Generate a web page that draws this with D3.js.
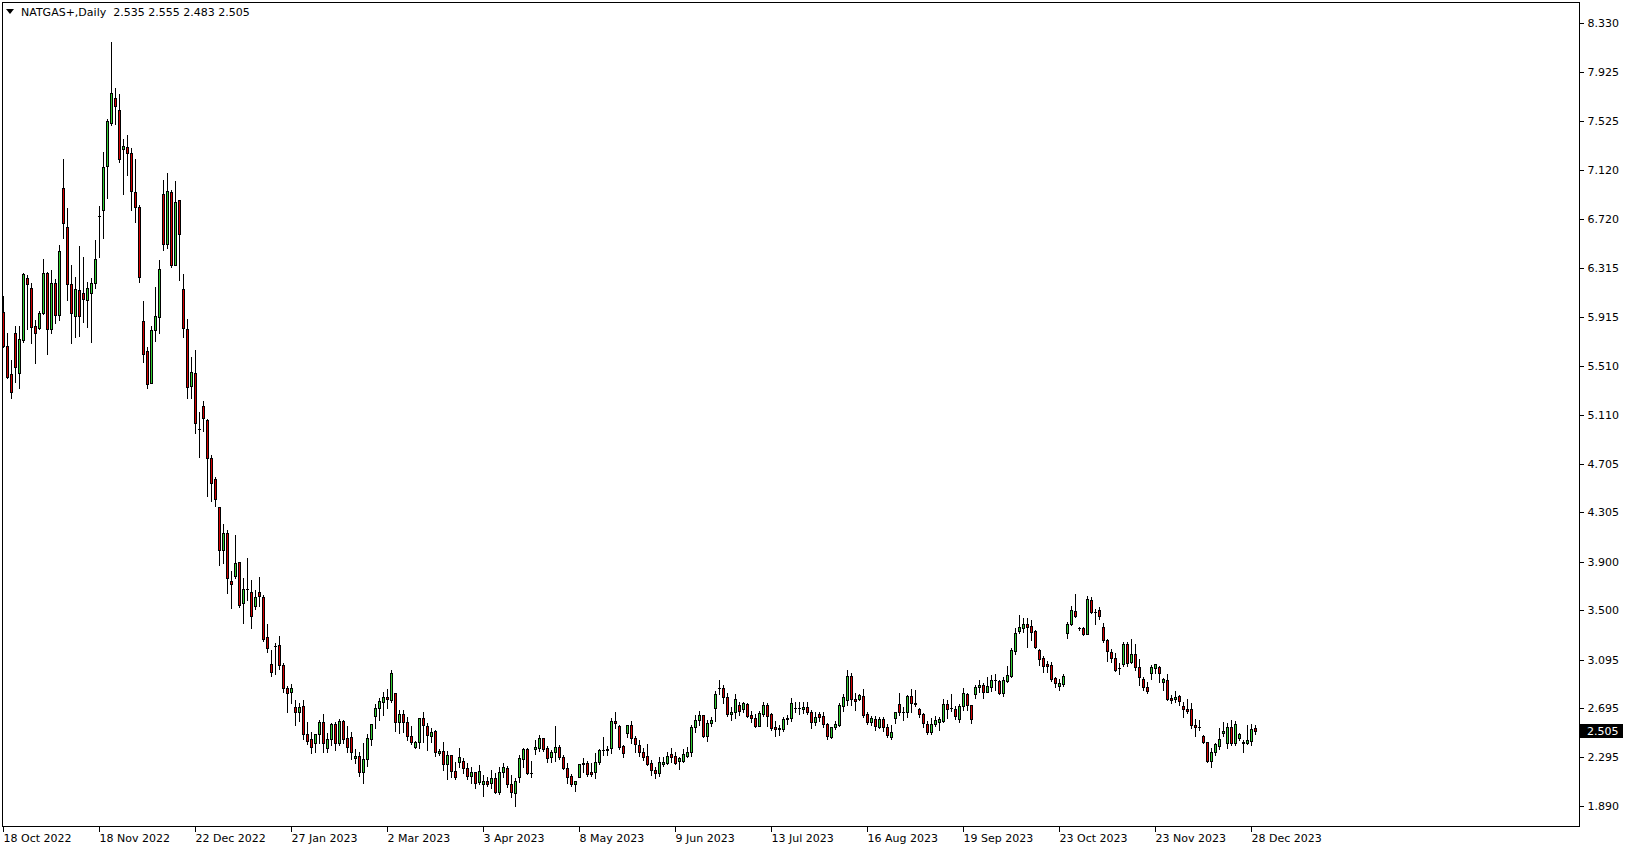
<!DOCTYPE html>
<html><head><meta charset="utf-8">
<script src="https://cdn.jsdelivr.net/npm/d3@7"></script>
<style>
html,body{margin:0;padding:0;background:#fff;overflow:hidden;}
svg{display:block;}
text{font-family:"DejaVu Sans",sans-serif;font-size:11px;}
</style></head><body>
<svg id="c" width="1629" height="850"></svg>
<script>
const symbol = "NATGAS+";
const timeframe = "Daily";
const lastOHLC = [2.535, 2.555, 2.483, 2.505];
const lastPrice = 2.505;

const opens = [5.956,5.674,5.441,5.778,5.449,5.723,6.230,6.148,5.838,5.819,5.943,6.271,5.811,6.189,5.926,6.970,6.650,6.181,5.921,6.134,6.107,6.052,6.113,6.189,6.743,6.792,7.154,7.505,7.710,7.614,7.291,7.307,7.258,6.937,6.814,5.880,5.633,5.367,5.806,5.915,6.921,6.510,6.937,6.340,6.874,6.143,5.814,5.347,5.449,4.988,5.180,5.065,4.750,4.577,4.347,3.996,4.133,3.744,3.785,3.895,3.558,3.673,3.654,3.539,3.654,3.607,3.278,3.056,3.207,3.215,3.051,2.859,2.832,2.703,2.662,2.714,2.481,2.443,2.407,2.481,2.585,2.371,2.443,2.563,2.407,2.591,2.448,2.462,2.284,2.303,2.169,2.278,2.443,2.634,2.700,2.750,2.791,2.763,2.818,2.585,2.645,2.580,2.470,2.374,2.415,2.612,2.552,2.470,2.508,2.325,2.344,2.234,2.311,2.182,2.256,2.262,2.201,2.141,2.168,2.092,2.070,2.097,2.078,2.119,2.004,2.168,2.201,2.070,1.996,2.133,2.281,2.358,2.166,2.358,2.366,2.448,2.366,2.297,2.333,2.380,2.297,2.207,2.141,2.073,2.133,2.234,2.242,2.168,2.174,2.251,2.352,2.352,2.366,2.593,2.549,2.385,2.489,2.558,2.448,2.393,2.338,2.303,2.242,2.188,2.165,2.237,2.248,2.319,2.306,2.262,2.264,2.305,2.333,2.538,2.599,2.640,2.467,2.577,2.695,2.865,2.859,2.791,2.645,2.662,2.722,2.686,2.730,2.640,2.612,2.552,2.648,2.722,2.645,2.538,2.530,2.522,2.607,2.612,2.700,2.695,2.689,2.708,2.667,2.585,2.645,2.632,2.563,2.462,2.538,2.558,2.714,2.763,2.960,2.771,2.769,2.796,2.648,2.585,2.607,2.544,2.607,2.544,2.462,2.612,2.728,2.667,2.662,2.796,2.741,2.689,2.645,2.563,2.503,2.563,2.582,2.593,2.728,2.695,2.689,2.607,2.716,2.810,2.722,2.813,2.868,2.887,2.832,2.873,2.928,2.919,2.823,2.919,2.960,3.169,3.333,3.352,3.388,3.371,3.330,3.174,3.106,3.056,3.051,2.941,2.881,2.895,3.311,3.388,3.495,3.352,3.352,3.306,3.585,3.489,3.503,3.361,3.256,3.161,3.111,3.024,3.056,3.221,3.078,3.139,3.032,2.936,2.867,2.982,3.024,3.032,2.914,2.928,2.777,2.771,2.796,2.714,2.689,2.686,2.558,2.539,2.470,2.415,2.262,2.333,2.388,2.489,2.412,2.539,2.407,2.448,2.421,2.407,2.429,2.535];
const highs = [6.085,5.778,5.559,5.838,5.838,6.277,6.258,6.189,5.888,5.962,6.387,6.282,6.299,6.222,6.504,7.209,6.806,6.340,6.244,6.496,6.403,6.203,6.230,6.546,6.825,7.266,7.537,8.171,7.792,7.743,7.376,7.409,7.299,7.209,6.833,6.044,5.668,5.838,6.162,6.381,7.039,7.094,6.957,7.031,6.874,6.263,5.893,5.586,5.641,5.134,5.221,5.071,4.775,4.599,4.347,4.207,4.161,3.826,4.120,3.895,3.763,3.928,3.750,3.668,3.777,3.626,3.388,3.174,3.229,3.289,3.065,2.878,2.895,2.763,2.736,2.763,2.585,2.497,2.481,2.599,2.648,2.489,2.571,2.585,2.607,2.599,2.549,2.497,2.360,2.338,2.412,2.481,2.563,2.728,2.777,2.826,2.854,3.010,2.818,2.681,2.681,2.626,2.549,2.429,2.618,2.667,2.571,2.530,2.517,2.357,2.421,2.344,2.311,2.256,2.366,2.284,2.248,2.210,2.168,2.229,2.147,2.133,2.188,2.166,2.215,2.242,2.221,2.147,2.119,2.311,2.366,2.366,2.262,2.434,2.475,2.448,2.385,2.352,2.549,2.393,2.311,2.242,2.155,2.100,2.234,2.284,2.262,2.248,2.325,2.360,2.456,2.388,2.612,2.667,2.558,2.393,2.558,2.591,2.470,2.434,2.366,2.401,2.270,2.215,2.297,2.297,2.333,2.366,2.333,2.297,2.358,2.374,2.557,2.640,2.673,2.640,2.599,2.621,2.837,2.928,2.887,2.818,2.708,2.810,2.750,2.750,2.741,2.673,2.645,2.675,2.744,2.741,2.653,2.593,2.558,2.626,2.640,2.777,2.750,2.750,2.750,2.750,2.681,2.662,2.667,2.667,2.571,2.544,2.593,2.741,2.813,3.010,2.988,2.818,2.813,2.851,2.667,2.632,2.632,2.626,2.626,2.566,2.558,2.667,2.818,2.708,2.804,2.851,2.845,2.700,2.659,2.590,2.612,2.632,2.626,2.769,2.763,2.810,2.714,2.728,2.859,2.818,2.722,2.887,2.928,2.900,2.955,2.969,2.977,2.928,2.955,3.043,3.188,3.352,3.462,3.434,3.434,3.421,3.339,3.180,3.125,3.084,3.078,2.950,2.936,2.974,3.407,3.536,3.635,3.366,3.366,3.618,3.613,3.511,3.530,3.394,3.262,3.182,3.147,3.070,3.243,3.243,3.262,3.221,3.100,2.950,2.909,3.051,3.059,3.043,2.941,2.977,2.804,2.840,2.804,2.750,2.769,2.741,2.607,2.599,2.475,2.415,2.366,2.412,2.530,2.580,2.577,2.599,2.593,2.489,2.434,2.558,2.566,2.555];
const lows = [5.663,5.414,5.244,5.381,5.331,5.710,5.814,5.696,5.532,5.811,5.937,5.608,5.778,5.860,5.888,6.559,6.052,5.701,5.745,5.756,5.874,5.828,5.710,6.148,6.408,6.559,6.888,7.491,7.496,7.189,6.921,7.080,6.792,6.696,6.203,5.545,5.331,5.367,5.718,5.784,6.463,6.482,6.326,6.340,6.217,5.751,5.244,5.249,4.961,4.764,4.977,4.443,4.402,4.361,3.873,3.887,3.640,3.517,3.763,3.531,3.399,3.585,3.358,3.509,3.536,3.251,3.160,2.963,2.974,3.015,2.832,2.667,2.736,2.557,2.593,2.443,2.401,2.325,2.338,2.407,2.338,2.333,2.393,2.352,2.393,2.407,2.338,2.275,2.243,2.141,2.084,2.221,2.393,2.536,2.599,2.640,2.695,2.744,2.511,2.489,2.503,2.434,2.401,2.366,2.366,2.421,2.352,2.415,2.306,2.311,2.188,2.111,2.133,2.114,2.215,2.166,2.114,2.078,2.037,2.073,1.977,2.059,2.042,1.996,1.988,2.133,2.051,1.968,1.894,2.092,2.215,2.155,2.127,2.316,2.347,2.347,2.251,2.251,2.264,2.275,2.193,2.078,2.059,2.015,2.127,2.168,2.141,2.141,2.119,2.234,2.311,2.311,2.330,2.536,2.358,2.297,2.462,2.407,2.338,2.303,2.270,2.229,2.150,2.120,2.141,2.221,2.234,2.256,2.234,2.193,2.256,2.292,2.303,2.503,2.558,2.462,2.429,2.549,2.591,2.810,2.741,2.634,2.599,2.618,2.640,2.667,2.626,2.585,2.538,2.549,2.632,2.552,2.516,2.470,2.475,2.511,2.563,2.590,2.667,2.645,2.653,2.648,2.536,2.558,2.593,2.544,2.440,2.448,2.525,2.549,2.676,2.722,2.722,2.681,2.763,2.626,2.566,2.558,2.517,2.536,2.508,2.456,2.440,2.571,2.640,2.599,2.626,2.667,2.714,2.621,2.544,2.481,2.481,2.549,2.517,2.585,2.618,2.675,2.604,2.580,2.681,2.681,2.577,2.777,2.832,2.777,2.832,2.840,2.845,2.813,2.796,2.914,2.955,3.141,3.317,3.325,3.202,3.256,3.193,3.051,2.996,2.996,2.922,2.867,2.845,2.878,3.276,3.380,3.443,3.339,3.298,3.303,3.476,3.385,3.429,3.237,3.084,3.073,3.002,2.974,3.045,3.045,3.070,3.010,2.890,2.845,2.823,2.933,2.988,2.914,2.845,2.763,2.741,2.744,2.722,2.626,2.659,2.530,2.467,2.517,2.407,2.256,2.215,2.311,2.360,2.470,2.366,2.393,2.393,2.434,2.338,2.401,2.393,2.483];
const closes = [5.674,5.422,5.299,5.504,5.729,6.263,6.184,5.827,5.778,5.943,6.271,5.811,6.189,5.926,6.455,6.683,6.181,5.948,6.140,5.923,6.058,6.148,6.189,6.387,6.743,7.143,7.524,7.751,7.647,7.209,7.318,7.258,6.951,6.820,6.244,5.605,5.359,5.806,5.921,6.304,6.510,6.951,6.340,6.855,6.592,5.825,5.340,5.462,5.043,4.988,5.079,4.750,4.544,4.413,3.996,4.133,3.763,3.714,3.887,3.544,3.673,3.673,3.456,3.607,3.621,3.262,3.188,2.991,3.207,3.051,2.859,2.818,2.859,2.667,2.703,2.481,2.429,2.380,2.481,2.585,2.407,2.443,2.563,2.407,2.591,2.443,2.380,2.333,2.303,2.169,2.278,2.448,2.563,2.700,2.758,2.791,2.771,2.982,2.585,2.645,2.580,2.470,2.415,2.415,2.612,2.558,2.475,2.503,2.333,2.344,2.234,2.311,2.182,2.133,2.292,2.201,2.141,2.168,2.084,2.179,2.097,2.073,2.125,2.010,2.168,2.210,2.070,2.004,2.100,2.284,2.358,2.160,2.166,2.380,2.448,2.360,2.289,2.333,2.380,2.297,2.201,2.133,2.070,2.097,2.234,2.242,2.152,2.155,2.251,2.352,2.352,2.360,2.593,2.571,2.380,2.325,2.558,2.448,2.399,2.338,2.297,2.234,2.188,2.160,2.251,2.256,2.306,2.297,2.242,2.284,2.316,2.333,2.538,2.599,2.640,2.467,2.577,2.599,2.810,2.865,2.791,2.645,2.662,2.769,2.675,2.741,2.634,2.618,2.552,2.653,2.722,2.634,2.536,2.525,2.522,2.607,2.618,2.736,2.700,2.695,2.708,2.662,2.585,2.621,2.626,2.563,2.470,2.538,2.566,2.722,2.785,2.960,2.769,2.758,2.804,2.640,2.585,2.612,2.549,2.607,2.544,2.475,2.497,2.662,2.662,2.667,2.796,2.741,2.730,2.645,2.571,2.503,2.563,2.599,2.607,2.728,2.689,2.695,2.634,2.716,2.818,2.722,2.604,2.868,2.887,2.832,2.878,2.928,2.928,2.823,2.928,2.969,3.174,3.311,3.361,3.388,3.366,3.325,3.202,3.098,3.046,3.043,2.933,2.906,2.900,2.963,3.388,3.503,3.454,3.352,3.303,3.591,3.484,3.489,3.457,3.256,3.166,3.106,3.010,3.024,3.221,3.065,3.141,3.032,2.955,2.867,2.840,3.032,3.056,2.982,2.936,2.769,2.763,2.785,2.758,2.686,2.675,2.558,2.539,2.539,2.421,2.264,2.333,2.398,2.443,2.508,2.544,2.412,2.563,2.481,2.407,2.434,2.525,2.505];

const priceTicks = [8.330,7.925,7.525,7.120,6.720,6.315,5.915,5.510,5.110,4.705,4.305,3.900,3.500,3.095,2.695,2.295,1.890];
const dateLabels = ["18 Oct 2022","18 Nov 2022","22 Dec 2022","27 Jan 2023","2 Mar 2023","3 Apr 2023","8 May 2023","9 Jun 2023","13 Jul 2023","16 Aug 2023","19 Sep 2023","23 Oct 2023","23 Nov 2023","28 Dec 2023"];
const dateLabelBars = [0,24,48,72,96,120,144,168,192,216,240,264,288,312];

const W = 1629, H = 850;
const frame = {left: 2, top: 2, right: 1579, bottom: 826};
const bullColor = "#32cd32", bearColor = "#d40000";

const svg = d3.select("#c");
const n = closes.length;
const data = d3.range(n).map(i => ({i, o: opens[i], h: highs[i], l: lows[i], c: closes[i]}));

const x = d3.scaleLinear().domain([0, n - 1]).range([3.5, 3.5 + 4 * (n - 1)]);
const y = d3.scaleLinear().domain([1.890, 8.330]).range([806.2, 22.9]);
const py = v => Math.round(y(v));

// frame
svg.append("rect")
  .attr("x", frame.left + 0.5).attr("y", frame.top + 0.5)
  .attr("width", frame.right - frame.left).attr("height", frame.bottom - frame.top)
  .attr("fill", "none").attr("stroke", "#000").attr("shape-rendering", "crispEdges");

const g = svg.append("g").attr("shape-rendering", "crispEdges");

// wicks
g.selectAll("line.wick").data(data).join("line")
  .attr("class", "wick")
  .attr("x1", d => Math.floor(x(d.i)) + 0.5).attr("x2", d => Math.floor(x(d.i)) + 0.5)
  .attr("y1", d => py(d.h)).attr("y2", d => py(d.l) + 1)
  .attr("stroke", "#000").attr("stroke-width", 1);

// bodies
const bodies = data.filter(d => py(d.o) !== py(d.c));
g.selectAll("rect.body").data(bodies).join("rect")
  .attr("class", "body")
  .attr("x", d => Math.floor(x(d.i)) - 0.5)
  .attr("y", d => Math.min(py(d.o), py(d.c)) + 0.5)
  .attr("width", 2)
  .attr("height", d => Math.abs(py(d.o) - py(d.c)))
  .attr("fill", d => d.c > d.o ? bullColor : bearColor)
  .attr("stroke", "#000").attr("stroke-width", 1);

// doji
const dojis = data.filter(d => py(d.o) === py(d.c));
g.selectAll("line.doji").data(dojis).join("line")
  .attr("class", "doji")
  .attr("x1", d => Math.floor(x(d.i)) - 1).attr("x2", d => Math.floor(x(d.i)) + 2)
  .attr("y1", d => py(d.o) + 0.5).attr("y2", d => py(d.o) + 0.5)
  .attr("stroke", "#000").attr("stroke-width", 1);

// right price axis
const yAxis = d3.axisRight(y).tickValues(priceTicks).tickFormat(d3.format(".3f")).tickSize(4).tickPadding(4);
const ya = svg.append("g").attr("transform", `translate(${frame.right + 0.5},0)`).call(yAxis);
ya.select(".domain").remove();
ya.selectAll(".tick line").attr("stroke", "#000").attr("shape-rendering", "crispEdges");
ya.selectAll(".tick text").attr("fill", "#000").style("font-family", "DejaVu Sans").style("font-size", "11px");

// bottom date axis
const xAxis = d3.axisBottom(x).tickValues(dateLabelBars).tickFormat((d, k) => dateLabels[k]).tickSize(5).tickPadding(3);
const xa = svg.append("g").attr("transform", `translate(0.5,${frame.bottom + 0.5})`).call(xAxis);
xa.select(".domain").remove();
xa.selectAll(".tick").attr("transform", d => `translate(${Math.floor(x(d))},0)`);
xa.selectAll(".tick line").attr("stroke", "#000").attr("shape-rendering", "crispEdges");
xa.selectAll(".tick text").attr("text-anchor", "start").attr("fill", "#000")
  .style("font-family", "DejaVu Sans").style("font-size", "11px");

// current price label
const lp = py(lastPrice);
svg.append("rect").attr("x", frame.right + 1).attr("y", lp - 7).attr("width", 43).attr("height", 14).attr("fill", "#000");
svg.append("text").attr("x", frame.right + 8).attr("y", lp).attr("dy", "0.35em")
  .attr("fill", "#fff").text(d3.format(".3f")(lastPrice));

// title
svg.append("path").attr("d", "M6,9 L14,9 L10,14 Z").attr("fill", "#000");
svg.append("text").attr("x", 21).attr("y", 12).attr("dy", "0.35em").attr("fill", "#000")
  .style("white-space", "pre")
  .text(`${symbol},${timeframe}  ${lastOHLC.map(d3.format(".3f")).join(" ")}`);
</script>
</body></html>
